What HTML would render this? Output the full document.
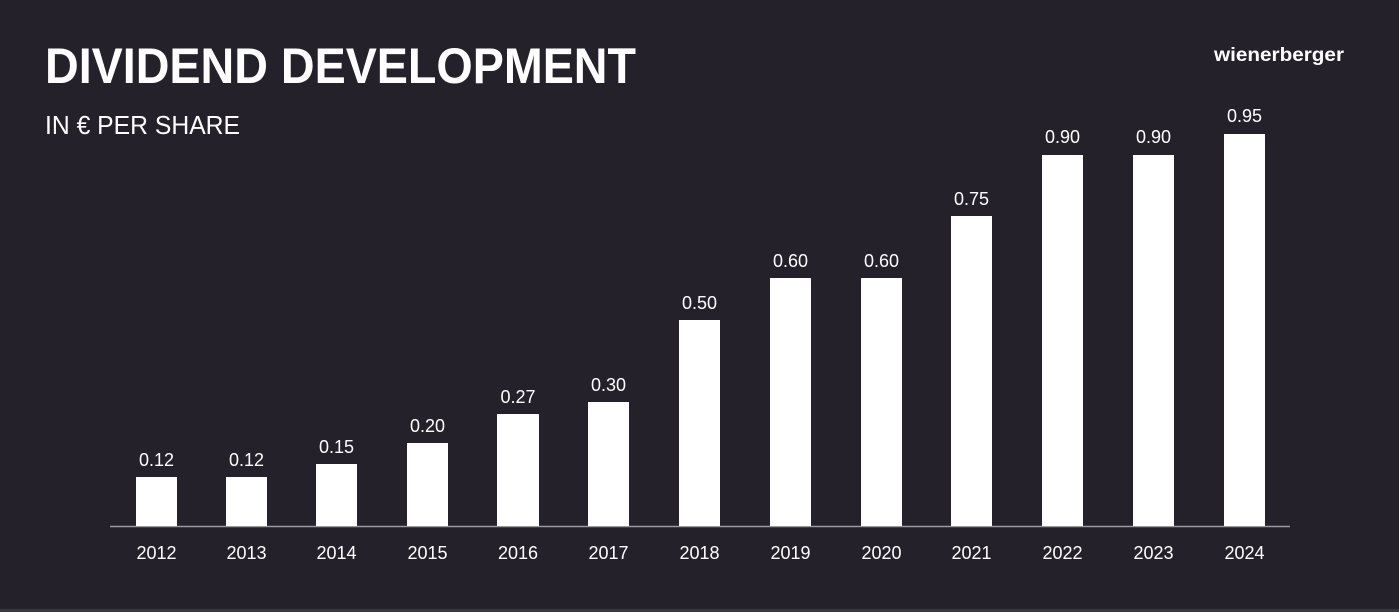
<!DOCTYPE html>
<html><head><meta charset="utf-8"><style>
html,body{margin:0;padding:0;background:#24212b;}
svg{display:block;}
text{font-family:"Liberation Sans",sans-serif;}
</style></head><body>
<svg width="1399" height="612" viewBox="0 0 1399 612" xmlns="http://www.w3.org/2000/svg">
<rect width="1399" height="612" fill="#24212b"/>
<rect x="0" y="609" width="1399" height="3" fill="#3a3740"/>
<text x="45" y="83" font-size="50" font-weight="bold" fill="#fff" textLength="591" lengthAdjust="spacingAndGlyphs">DIVIDEND DEVELOPMENT</text>
<text x="45" y="134" font-size="26" fill="#fff" textLength="195" lengthAdjust="spacingAndGlyphs">IN € PER SHARE</text>
<text x="1214" y="61" font-size="19" font-weight="bold" fill="#fff" textLength="130" lengthAdjust="spacingAndGlyphs">wienerberger</text>
<line x1="110" y1="526.5" x2="1290" y2="526.5" stroke="#9a98a0" stroke-width="1.5"/>
<g fill="#fff" font-size="18" text-anchor="middle">
<rect x="136" y="477" width="41" height="49"/><text x="156.5" y="466">0.12</text><text x="156.5" y="559">2012</text>
<rect x="226" y="477" width="41" height="49"/><text x="246.5" y="466">0.12</text><text x="246.5" y="559">2013</text>
<rect x="316" y="464" width="41" height="62"/><text x="336.5" y="453">0.15</text><text x="336.5" y="559">2014</text>
<rect x="407" y="443" width="41" height="83"/><text x="427.5" y="432">0.20</text><text x="427.5" y="559">2015</text>
<rect x="497" y="414" width="42" height="112"/><text x="518" y="403">0.27</text><text x="518" y="559">2016</text>
<rect x="588" y="402" width="41" height="124"/><text x="608.5" y="391">0.30</text><text x="608.5" y="559">2017</text>
<rect x="679" y="320" width="41" height="206"/><text x="699.5" y="309">0.50</text><text x="699.5" y="559">2018</text>
<rect x="770" y="278" width="41" height="248"/><text x="790.5" y="267">0.60</text><text x="790.5" y="559">2019</text>
<rect x="861" y="278" width="41" height="248"/><text x="881.5" y="267">0.60</text><text x="881.5" y="559">2020</text>
<rect x="951" y="216" width="41" height="310"/><text x="971.5" y="205">0.75</text><text x="971.5" y="559">2021</text>
<rect x="1042" y="155" width="41" height="371"/><text x="1062.5" y="143">0.90</text><text x="1062.5" y="559">2022</text>
<rect x="1133" y="155" width="41" height="371"/><text x="1153.5" y="143">0.90</text><text x="1153.5" y="559">2023</text>
<rect x="1224" y="134" width="41" height="392"/><text x="1244.5" y="122">0.95</text><text x="1244.5" y="559">2024</text>
</g>
</svg>
</body></html>
